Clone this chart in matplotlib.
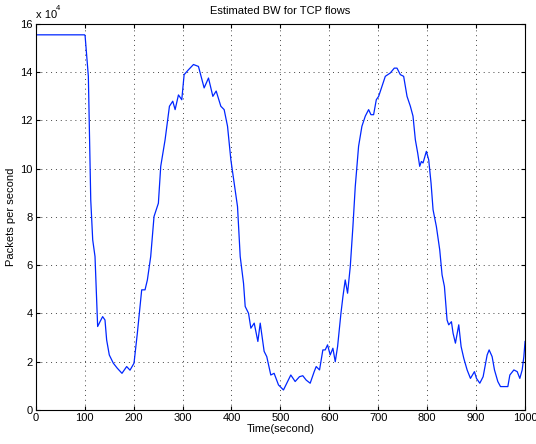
import numpy as np
import matplotlib.pyplot as plt

plt.rcParams['font.family'] = ['Liberation Sans', 'DejaVu Sans']

# estimated bandwidth (units of 1e4 packets/s)
time_s = [0, 100, 101, 107.6, 112.5, 116.5, 121.2, 126.6, 131.4, 136.8, 141.6, 145,
          150.4, 158.6, 166.8, 176.3, 185.9, 192.7, 200.9, 207.7, 216.6, 223.4,
          228.2, 235.0, 241.8, 250.7, 255.5, 264.4, 273.3, 280.1, 284.9, 291.7,
          298.5, 303.3, 312.1, 322.4, 332.6, 344.2, 353.1, 362.0, 368.8, 378.3,
          385.1, 392.0, 398.8, 405.6, 412.4, 417.9, 424.7, 428.1, 434.9, 439.7,
          446.5, 454.0, 458.8, 466.8, 472.2, 480.4, 487.2, 496.1, 506.3, 513.1,
          521.3, 530.2, 539.0, 545.8, 552.7, 560.9, 569.1, 573.2, 580.0, 586.8,
          591.6, 596.4, 601.8, 607.3, 612.1, 616.9, 623.7, 627.8, 632.5, 637.3,
          642.8, 648.2, 653.0, 659.8, 666.6, 673.5, 680.3, 685.1, 690.5, 696.0,
          700.8, 707.6, 714.4, 724.6, 732.8, 738.3, 745.1, 751.9, 758.8, 765.6,
          771.0, 775.8, 780.6, 784.7, 788.1, 791.5, 798.3, 803.1, 807.9, 812.0,
          818.8, 825.6, 830.4, 835.2, 840.6, 844.0, 849.5, 852.9, 857.7, 864.5,
          869.3, 874.8, 881.6, 888.4, 896.6, 900.7, 907.5, 914.3, 922.5, 926.6,
          932.7, 937.5, 944.3, 949.8, 956.6, 964.8, 968.9, 977.1, 983.9, 989.3,
          994.1, 997.5, 1000]
bw = [15.55, 15.55, 15.5, 13.83, 8.7, 7.05, 6.36, 3.46, 3.66, 3.87, 3.73, 2.9,
      2.28, 1.94, 1.73, 1.52, 1.8, 1.65, 1.94, 3.18, 4.98, 4.98,
      5.39, 6.36, 8.02, 8.57, 10.1, 11.2, 12.59, 12.8, 12.45, 13.06,
      12.86, 13.9, 14.1, 14.32, 14.24, 13.35, 13.76, 13.0, 13.22, 12.59,
      12.45, 11.76, 10.37, 9.4, 8.43, 6.36, 5.25, 4.29, 4.01, 3.39,
      3.6, 2.84, 3.6, 2.43, 2.21, 1.45, 1.52, 1.04, 0.83, 1.11,
      1.45, 1.18, 1.38, 1.42, 1.24, 1.11, 1.59, 1.8, 1.66, 2.49,
      2.49, 2.7, 2.28, 2.56, 2.0, 2.63, 4.0, 4.7, 5.39, 4.84,
      5.94, 7.6, 9.26, 10.93, 11.76, 12.18, 12.45, 12.24, 12.24, 12.86,
      13.0, 13.41, 13.83, 13.97, 14.17, 14.17, 13.9, 13.83, 13.0, 12.59,
      12.18, 11.2, 10.65, 10.1, 10.3, 10.24, 10.72, 10.37, 9.4, 8.3,
      7.6, 6.64, 5.6, 5.12, 3.73, 3.53, 3.66, 3.18, 2.77, 3.53,
      2.63, 2.14, 1.66, 1.31, 1.59, 1.31, 1.11, 1.38, 2.28, 2.49,
      2.21, 1.66, 1.18, 0.97, 0.97, 0.97, 1.45, 1.66, 1.59, 1.31,
      1.66, 2.21, 2.84]

x_ticks = np.arange(0, 1001, 100)
y_ticks = np.arange(0, 17, 2)

fig = plt.figure(figsize=(5.36, 4.44), dpi=100)
ax = fig.add_axes([0.0666, 0.0766, 0.913, 0.8694])
ax.plot(time_s, bw, color=(0.0, 0.15, 1.0), linewidth=0.9)

ax.set_xlim(0, 1000)
ax.set_ylim(0, 16)
ax.set_xticks(x_ticks)
ax.set_yticks(y_ticks)
ax.tick_params(direction='in', top=True, right=True, labelsize=8, length=3, pad=2)
ax.grid(True, linestyle=(0, (1, 4)), color='#444444', linewidth=0.7)
for s in ax.spines.values():
    s.set_linewidth(0.8)

ax.set_title('Estimated BW for TCP flows', fontsize=8, pad=7)
ax.set_xlabel('Time(second)', fontsize=8, labelpad=1)
ax.set_ylabel('Packets per second', fontsize=8, labelpad=3)
ax.text(0.0, 1.01, 'x 10', transform=ax.transAxes, fontsize=8,
        ha='left', va='bottom')
ax.text(0.042, 1.03, '4', transform=ax.transAxes, fontsize=5.5,
        ha='left', va='bottom')

fig.savefig('out.png', dpi=100)
